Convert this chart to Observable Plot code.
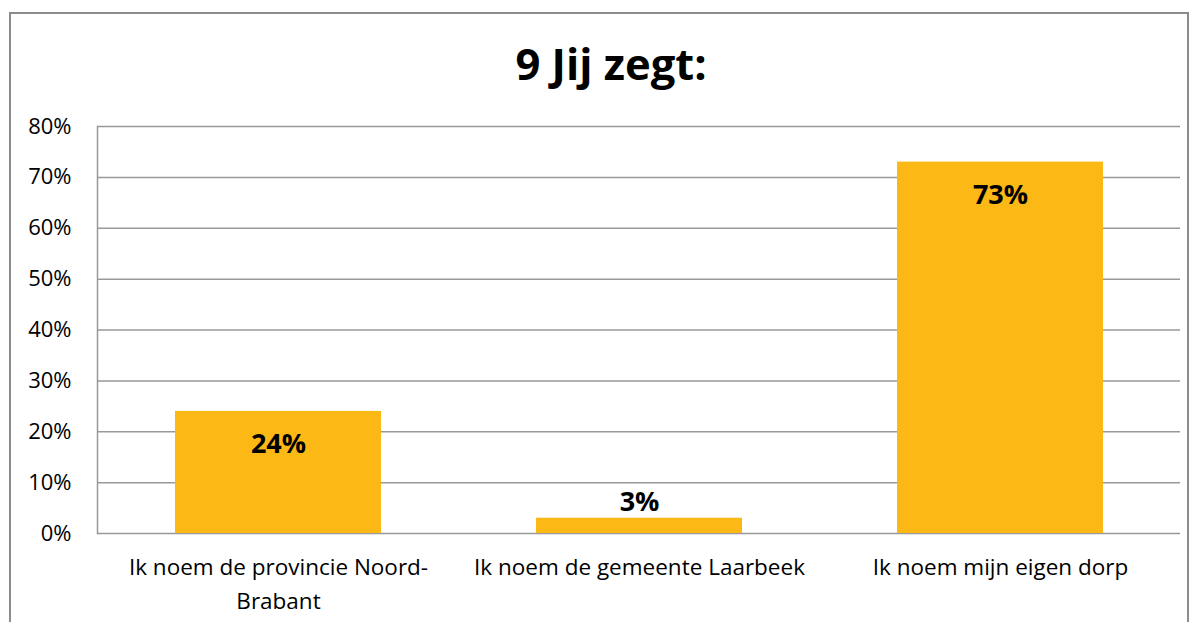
<!DOCTYPE html>
<html>
<head>
<meta charset="utf-8">
<script src="https://cdn.jsdelivr.net/npm/d3@7"></script>
<script src="https://cdn.jsdelivr.net/npm/@observablehq/plot@0.6"></script>
<style>
  html, body { margin: 0; padding: 0; background: #fff; }
  #wrap { position: relative; width: 1199px; height: 622px; overflow: hidden; font-family: "Open Sans", sans-serif; }
  #frame { position: absolute; left: 9px; top: 12px; width: 1180px; height: 640px; border: 2px solid #8c8c8c; box-sizing: border-box; }
  #title { position: absolute; left: 0; top: 36px; width: 1222px; text-align: center; font-size: 43.5px; font-weight: bold; color: #000; line-height: 56px; }
  #chart { position: absolute; left: 0; top: 100px; }
</style>
</head>
<body>
<div id="wrap">
  <div id="frame"></div>
  <div id="title">9 Jij zegt:</div>
  <div id="chart"></div>
</div>
<script>
const categories = [
  "Ik noem de provincie Noord-\nBrabant",
  "Ik noem de gemeente Laarbeek",
  "Ik noem mijn eigen dorp"
];
const values = [0.24, 0.03, 0.73];
const yTicks = [0, 0.1, 0.2, 0.3, 0.4, 0.5, 0.6, 0.7, 0.8];

const data = categories.map((c, i) => ({category: c, value: values[i]}));
const pct = d3.format(".0%");

const plot = Plot.plot({
  width: 1199,
  height: 522,
  marginLeft: 97,
  marginRight: 19,
  marginTop: 26,
  marginBottom: 89,
  style: {fontFamily: "'Open Sans', sans-serif", fontSize: "22px", color: "#000", background: "transparent"},
  x: {domain: categories, paddingInner: 0.43, paddingOuter: 0.215, label: null},
  y: {domain: [0, 0.8], label: null},
  marks: [
    Plot.ruleY(yTicks, {stroke: "#999", strokeWidth: 1.5, strokeOpacity: 1}),
    Plot.frame({anchor: "left", stroke: "#999", strokeWidth: 1.5}),
    Plot.barY(data, {x: "category", y: "value", fill: "#FCB814"}),
    Plot.text(data.filter(d => d.value >= 0.1), {x: "category", y: "value", text: d => pct(d.value), dy: 33, fontWeight: "bold", fontSize: 27, fill: "#000"}),
    Plot.text(data.filter(d => d.value < 0.1), {x: "category", y: "value", text: d => pct(d.value), dy: -16, fontWeight: "bold", fontSize: 27, fill: "#000"}),
    Plot.axisY({ticks: yTicks, tickFormat: pct, tickSize: 0, tickPadding: 26, fontSize: 22, label: null}),
    Plot.axisX({tickSize: 0, tickPadding: 18, fontSize: 22.5, lineHeight: 1.5, label: null})
  ]
});
document.getElementById("chart").appendChild(plot);
</script>
</body>
</html>
